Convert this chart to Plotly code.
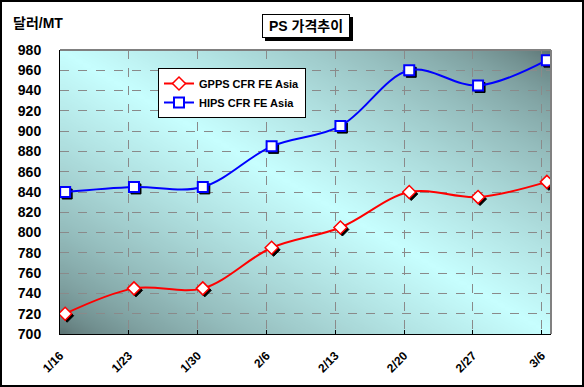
import zlib, struct, base64
import plotly.graph_objects as go

# ---- data ----
categories = ["1/16", "1/23", "1/30", "2/6", "2/13", "2/20", "2/27", "3/6"]
gpps = [720, 745, 745, 785, 805, 840, 835, 850]
hips = [840, 845, 845, 885, 905, 960, 945, 970]
y_ticks = list(range(700, 1000, 20))

W, H = 584, 387
ML, MR, MT, MB = 60, 33, 50, 53
PW, PH = W - ML - MR, H - MT - MB
XMAX = 7.135
YMIN, YMAX = 700, 980
XOFF = 0.075  # marker offset within each week

xs = [i + XOFF for i in range(len(categories))]

# ---- gradient background as PNG ----
def make_png(w, h, fn):
    raw = b""
    for j in range(h):
        row = b"\x00"
        for i in range(w):
            row += bytes(fn(i / (w - 1), 1 - j / (h - 1)))
        raw += row
    def chunk(t, d):
        c = struct.pack(">I", len(d)) + t + d
        return c + struct.pack(">I", zlib.crc32(t + d) & 0xffffffff)
    png = b"\x89PNG\r\n\x1a\n" + chunk(b"IHDR", struct.pack(">IIBBBBB", w, h, 8, 2, 0, 0, 0))
    png += chunk(b"IDAT", zlib.compress(raw)) + chunk(b"IEND", b"")
    return "data:image/png;base64," + base64.b64encode(png).decode()

dark = (94, 118, 118)
light = (200, 255, 255)
def grad(xn, yn):
    t = (xn + yn) / 2
    v = 1 - abs(2 * t - 1)
    v = v ** 0.65
    return tuple(int(dark[k] + (light[k] - dark[k]) * v) for k in range(3))

bg = make_png(64, 64, grad)

font_family = "Liberation Sans, Arial, Noto Sans CJK KR"

fig = go.Figure()
# dummy for main axes
fig.add_trace(go.Scatter(x=[0], y=[YMIN], mode="markers", marker=dict(opacity=0),
                         showlegend=False, hoverinfo="skip"))
# shadows
for vals, sym in [(gpps, "diamond"), (hips, "square")]:
    fig.add_trace(go.Scatter(x=xs, y=vals, mode="markers", xaxis="x2", yaxis="y2",
                             marker=dict(symbol=sym, size=10, color="black",
                                         line=dict(color="black", width=1)),
                             showlegend=False, hoverinfo="skip"))
fig.add_trace(go.Scatter(x=xs, y=gpps, mode="lines+markers", name="GPPS CFR FE Asia",
                         xaxis="x3", yaxis="y3",
                         line=dict(color="#ff0000", width=2, shape="spline", smoothing=1),
                         marker=dict(symbol="diamond", size=10, color="white",
                                     line=dict(color="#ff0000", width=1.5))))
fig.add_trace(go.Scatter(x=xs, y=hips, mode="lines+markers", name="HIPS CFR FE Asia",
                         xaxis="x3", yaxis="y3",
                         line=dict(color="#0000ff", width=2, shape="spline", smoothing=1),
                         marker=dict(symbol="square", size=10, color="white",
                                     line=dict(color="#0000ff", width=2))))

dx = 2 / (PW / XMAX)
dy = 2 / (PH / (YMAX - YMIN))
hidden = dict(visible=False, fixedrange=True)

fig.update_layout(
    width=W, height=H,
    margin=dict(l=ML, r=MR, t=MT, b=MB),
    paper_bgcolor="white",
    plot_bgcolor="rgba(0,0,0,0)",
    font=dict(family=font_family, color="black"),
    xaxis=dict(range=[0, XMAX], tickmode="array", tickvals=list(range(len(categories))),
               ticktext=categories, tickangle=-45, showgrid=True, gridcolor="#8a8a8a",
               griddash="dash", gridwidth=1, showline=True, linecolor="black", linewidth=1,
               ticks="inside", ticklen=4, tickcolor="black", zeroline=False,
               tickfont=dict(size=12, weight="bold"), ticklabelstandoff=9),
    yaxis=dict(range=[YMIN, YMAX], tickmode="array", tickvals=y_ticks, showgrid=True,
               gridcolor="#8a8a8a", griddash="dash", gridwidth=1, showline=True,
               linecolor="black", linewidth=1, ticks="", zeroline=False,
               tickfont=dict(size=14, weight="bold"), ticklabelstandoff=15),
    xaxis2=dict(overlaying="x", range=[-dx, XMAX - dx], **hidden),
    yaxis2=dict(overlaying="y", range=[YMIN + dy, YMAX + dy], **hidden),
    xaxis3=dict(overlaying="x", range=[0, XMAX], **hidden),
    yaxis3=dict(overlaying="y", range=[YMIN, YMAX], **hidden),
    legend=dict(x=(158 - ML) / PW, y=(H - MB - 68) / PH, xanchor="left", yanchor="top",
                bgcolor="white", bordercolor="black", borderwidth=1,
                font=dict(size=11, weight="bold"), itemwidth=30, tracegroupgap=0),
    images=[dict(source=bg, xref="paper", yref="paper", x=0, y=1, sizex=1, sizey=1,
                 sizing="stretch", layer="below")],
    showlegend=True,
)

def px_x(p):
    return (p - ML) / PW

def px_y(p):
    return (H - MB - p) / PH

# plot area top/right border (gray) and outer border
fig.add_shape(type="line", xref="paper", yref="paper", x0=0, x1=1, y0=1, y1=1,
              line=dict(color="#808080", width=2))
fig.add_shape(type="line", xref="paper", yref="paper", x0=1, x1=1, y0=0, y1=1,
              line=dict(color="#808080", width=2))
fig.add_shape(type="rect", xref="paper", yref="paper",
              x0=px_x(1), x1=px_x(W - 1), y0=px_y(H - 1), y1=px_y(1),
              line=dict(color="black", width=2))

# y unit label
fig.add_annotation(text="<b>달러/MT</b>", xref="paper", yref="paper",
                   x=px_x(11), y=px_y(13), xanchor="left", yanchor="top",
                   showarrow=False, font=dict(size=14))
# title box with shadow
cx, cy, bw, bh = 306, 26, 88, 24
fig.add_shape(type="rect", xref="paper", yref="paper",
              x0=px_x(cx - bw / 2 + 3), x1=px_x(cx + bw / 2 + 3),
              y0=px_y(cy + bh / 2 + 3), y1=px_y(cy - bh / 2 + 3),
              fillcolor="black", line=dict(width=0))
fig.add_annotation(text="<b>PS 가격추이</b>", xref="paper", yref="paper",
                   x=px_x(cx), y=px_y(cy), xanchor="center", yanchor="middle",
                   width=bw - 2, height=bh - 2, borderpad=0,
                   showarrow=False, font=dict(size=14, color="black"),
                   bgcolor="white", bordercolor="black", borderwidth=1)

fig.write_html("out.html", config={"displayModeBar": False},
               post_script="document.body.style.margin='0';")
